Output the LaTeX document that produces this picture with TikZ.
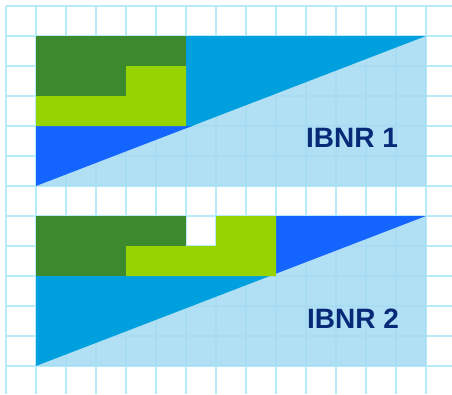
\documentclass[tikz,border=0pt]{standalone}
\usepackage{fontspec}
\setmainfont{Liberation Sans}
\definecolor{gridcyan}{HTML}{B6EBFA}
\definecolor{paleblue}{HTML}{A6DBF1}
\definecolor{skyblue}{HTML}{00A0DF}
\definecolor{royalblue}{HTML}{1464FF}
\definecolor{darkgreen}{HTML}{3D8A2E}
\definecolor{limegreen}{HTML}{95D400}
\definecolor{navytext}{HTML}{062A78}
\begin{document}
\begin{tikzpicture}[x=1pt,y=-1pt,
  gridline/.style={draw=gridcyan,line width=1.3pt},
  lowerpart/.style={fill=paleblue,fill opacity=0.88},
  label/.style={font=\bfseries\fontsize{28}{28}\selectfont,text=navytext,anchor=base,inner sep=0pt}]
\useasboundingbox (0,0) rectangle (452,394);
% background grid
\foreach \i in {0,...,14} \draw[gridline] (6+30*\i,6) -- (6+30*\i,394);
\foreach \j in {0,...,12} \draw[gridline] (6,6+30*\j) -- (452,6+30*\j);

% ---- first triangle
\fill[lowerpart] (36,186) -- (426,36) -- (426,186) -- cycle;
\fill[skyblue] (186,36) -- (426,36) -- (186,128.3) -- cycle;
\fill[royalblue] (36,126) -- (192,126) -- (36,186) -- cycle;
\fill[darkgreen] (36,36) rectangle (186,96);
\fill[limegreen] (126,66) -- (186,66) -- (186,126) -- (36,126) -- (36,96) -- (126,96) -- cycle;
\node[label] (ibnr1) at (352,147) {IBNR 1};

% ---- second triangle
\fill[lowerpart] (36,366) -- (426,216) -- (426,366) -- cycle;
\fill[skyblue] (36,276) -- (270,276) -- (36,366) -- cycle;
\fill[royalblue] (276,216) -- (426,216) -- (276,273.7) -- cycle;
\fill[darkgreen] (36,216) rectangle (186,276);
\fill[limegreen] (216,216) -- (276,216) -- (276,276) -- (126,276) -- (126,246) -- (216,246) -- cycle;
\node[label] (ibnr2) at (353,328) {IBNR 2};
\end{tikzpicture}
\end{document}
